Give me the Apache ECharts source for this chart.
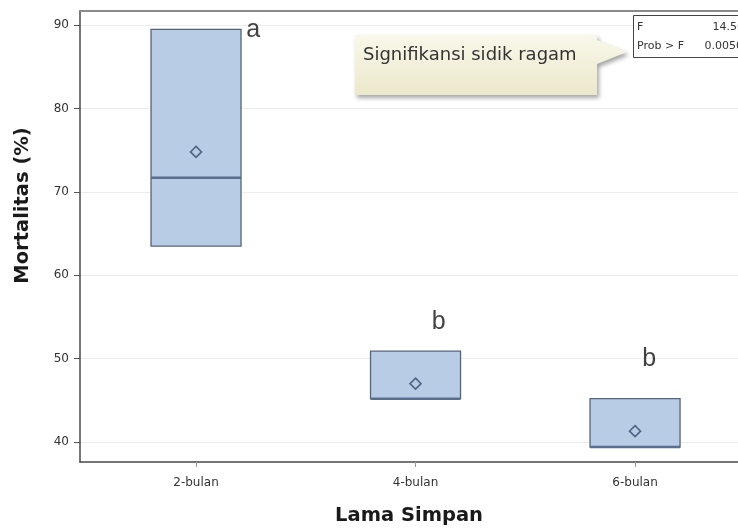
<!DOCTYPE html>
<html>
<head>
<meta charset="utf-8">
<script src="https://cdn.jsdelivr.net/npm/echarts@6/dist/echarts.min.js"></script>
<style>
  html, body { margin: 0; padding: 0; background: #ffffff; }
  #chart { width: 738px; height: 531px; }
</style>
</head>
<body>
<div id="chart"></div>
<script>
// ---- data ----
const categories = ['2-bulan', '4-bulan', '6-bulan'];
const boxLow = [63.5, 45.2, 39.4];
const boxHigh = [89.5, 50.9, 45.2];
const boxMedian = [71.7, 45.2, 39.4];
const meanValues = [74.8, 47.0, 41.3];
const groupLetters = ['a', 'b', 'b'];
const letterX = [1.26, 2.105, 3.064];
const letterY = [89.4, 54.4, 49.9];
const yTickValues = [40, 50, 60, 70, 80, 90];
const anovaF = '14.56';
const anovaP = '0.0050';
const calloutText = 'Signifikansi sidik ragam';

// ---- build ----
const catPos = categories.map((c, i) => i + 1);
const BOX_W = 0.41;
const boxData = catPos.map((x, i) => [x, boxLow[i], boxHigh[i], boxMedian[i]]);
const meanData = catPos.map((x, i) => [x, meanValues[i]]);
const letterData = groupLetters.map((l, i) => ({ value: [letterX[i], letterY[i]], name: l }));

const chart = echarts.init(document.getElementById('chart'));
const FONT = 'DejaVu Sans';

chart.setOption({
  animation: false,
  backgroundColor: '#ffffff',
  grid: { left: 80, right: 0, top: 11, bottom: 68 },
  xAxis: [{
    type: 'value',
    min: 0.4715,
    max: 3.469,
    position: 'bottom',
    name: 'Lama Simpan',
    nameLocation: 'middle',
    nameGap: 44,
    nameTextStyle: { fontFamily: FONT, fontWeight: 'bold', fontSize: 19.5, color: '#1a1a1a' },
    axisLine: { show: true, onZero: false, lineStyle: { color: '#4a4a4a', width: 1.5 } },
    axisTick: { show: true, customValues: catPos, length: 5, lineStyle: { color: '#999' } },
    axisLabel: {
      customValues: catPos,
      formatter: v => categories[Math.round(v) - 1] || '',
      fontFamily: FONT, fontSize: 12, color: '#333', margin: 15
    },
    splitLine: { show: false }
  }, {
    type: 'value',
    min: 0.4715,
    max: 3.469,
    position: 'top',
    axisLine: { show: true, onZero: false, lineStyle: { color: '#8a8a8a', width: 2 } },
    axisTick: { show: false },
    axisLabel: { show: false },
    splitLine: { show: false }
  }],
  yAxis: {
    type: 'value',
    min: 37.6,
    max: 91.7,
    name: 'Mortalitas (%)',
    nameLocation: 'middle',
    nameGap: 47,
    nameTextStyle: { fontFamily: FONT, fontWeight: 'bold', fontSize: 19.5, color: '#1a1a1a', padding: [0, 0, 0, 62] },
    axisLine: { show: true, onZero: false, lineStyle: { color: '#4a4a4a', width: 1.5 } },
    axisTick: { show: true, customValues: yTickValues, length: 6, lineStyle: { color: '#555' } },
    axisLabel: { customValues: yTickValues, fontFamily: FONT, fontSize: 12, color: '#333', margin: 11 },
    splitLine: { show: true, lineStyle: { color: '#ececec', width: 1 } }
  },
  series: [{
    type: 'custom',
    xAxisIndex: 0,
    data: boxData,
    clip: false,
    renderItem: function (params, api) {
      const x = api.value(0), lo = api.value(1), hi = api.value(2), med = api.value(3);
      const top = api.coord([x, hi]);
      const bot = api.coord([x, lo]);
      const m = api.coord([x, med]);
      const w = api.size([BOX_W, 0])[0];
      return {
        type: 'group',
        children: [{
          type: 'rect',
          shape: { x: top[0] - w / 2, y: top[1], width: w, height: bot[1] - top[1] },
          style: { fill: '#b9cce5', stroke: '#56637a', lineWidth: 1.3 }
        }, {
          type: 'line',
          shape: { x1: m[0] - w / 2, y1: m[1], x2: m[0] + w / 2, y2: m[1] },
          style: { stroke: '#5a6e8e', lineWidth: 2.5 }
        }]
      };
    }
  }, {
    type: 'scatter',
    xAxisIndex: 0,
    data: meanData,
    symbol: 'diamond',
    symbolSize: [11, 11],
    itemStyle: { color: 'rgba(0,0,0,0)', borderColor: '#344a6c', borderWidth: 1.6 },
    z: 5
  }, {
    type: 'scatter',
    xAxisIndex: 0,
    data: letterData,
    symbolSize: 1,
    itemStyle: { color: 'rgba(0,0,0,0)' },
    label: {
      show: true,
      position: 'inside',
      formatter: p => p.name,
      fontFamily: 'Liberation Sans',
      fontSize: 25,
      color: '#111'
    },
    z: 6
  }],
  graphic: [{
    type: 'polygon',
    shape: { points: [[355, 35], [597, 35], [597, 40], [627, 52], [597, 64], [597, 95], [355, 95]] },
    style: {
      fill: new echarts.graphic.LinearGradient(0, 0, 0, 1, [
        { offset: 0, color: '#f9f8ea' }, { offset: 1, color: '#ebe8cb' }
      ]),
      shadowColor: 'rgba(0,0,0,0.35)', shadowBlur: 4, shadowOffsetX: 2, shadowOffsetY: 3
    },
    z: 100
  }, {
    type: 'text',
    x: 363, y: 55,
    style: { text: calloutText, fontFamily: FONT, fontSize: 18, fill: '#333', verticalAlign: 'middle' },
    z: 101
  }, {
    type: 'rect',
    shape: { x: 633.5, y: 15.5, width: 130, height: 42 },
    style: { fill: '#ffffff', stroke: '#444', lineWidth: 1 },
    z: 100
  }, {
    type: 'text', x: 637, y: 27,
    style: { text: 'F', fontFamily: FONT, fontSize: 11, fill: '#333', verticalAlign: 'middle' }, z: 101
  }, {
    type: 'text', x: 744, y: 27,
    style: { text: anovaF, fontFamily: FONT, fontSize: 11, fill: '#333', align: 'right', verticalAlign: 'middle' }, z: 101
  }, {
    type: 'text', x: 637, y: 46,
    style: { text: 'Prob > F', fontFamily: FONT, fontSize: 11, fill: '#333', verticalAlign: 'middle' }, z: 101
  }, {
    type: 'text', x: 743, y: 46,
    style: { text: anovaP, fontFamily: FONT, fontSize: 11, fill: '#333', align: 'right', verticalAlign: 'middle' }, z: 101
  }]
});
</script>
</body>
</html>
